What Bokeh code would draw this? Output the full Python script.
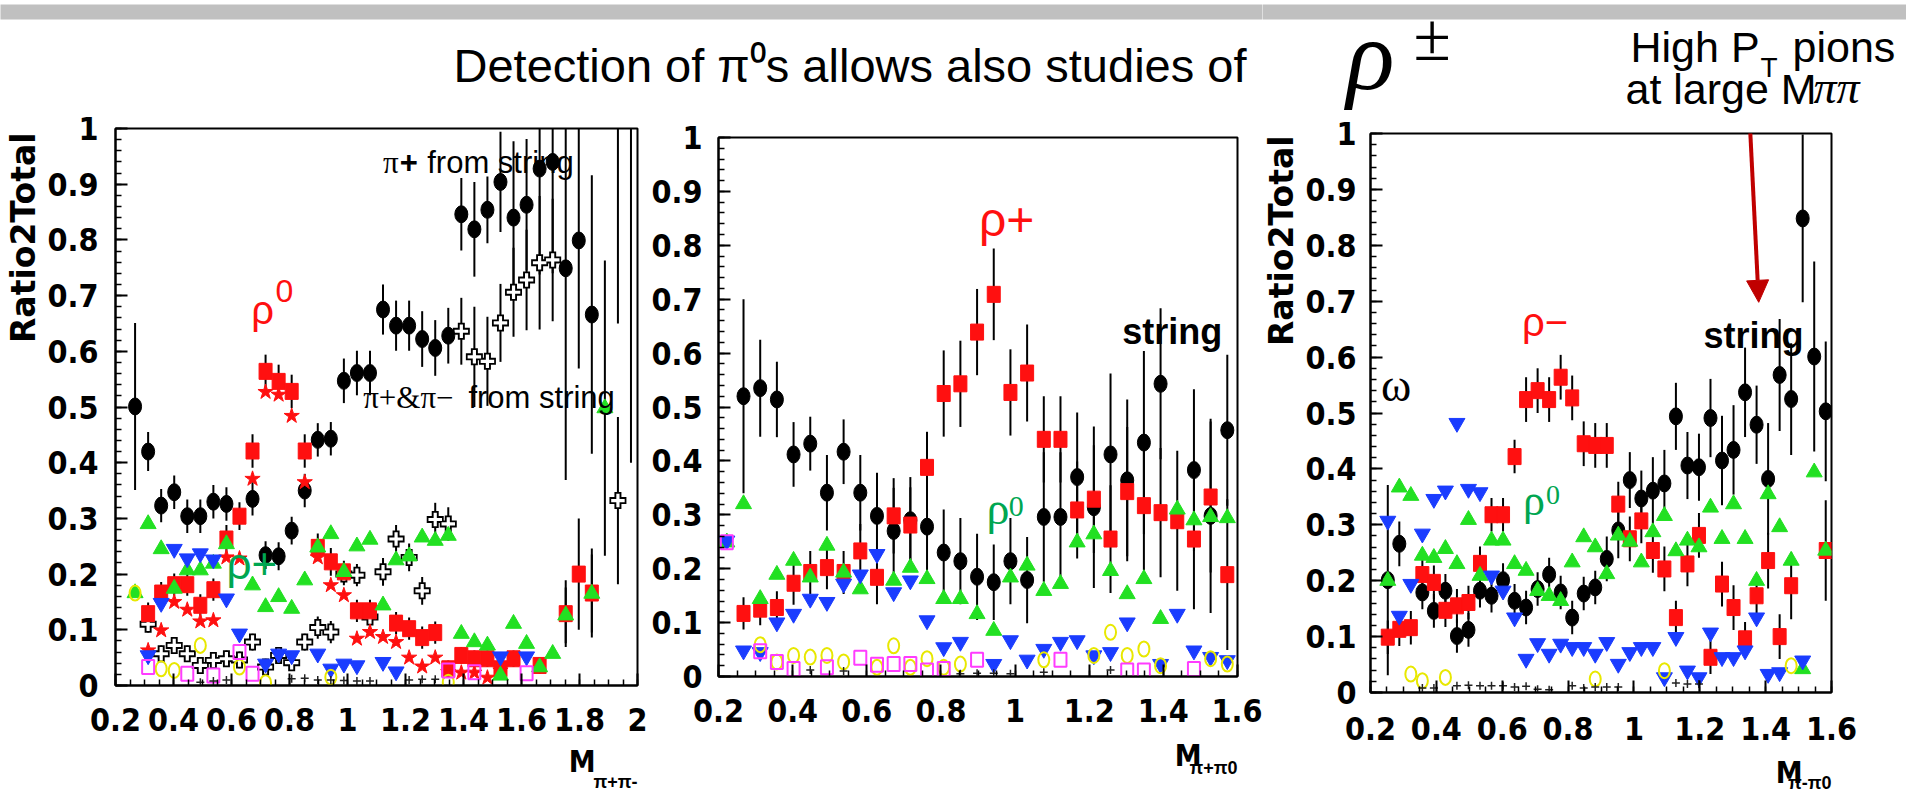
import math
import numpy as np
from bokeh.plotting import figure
from bokeh.layouts import row, column
from bokeh.models import (Range1d, SingleIntervalTicker, PrintfTickFormatter, Label,
                          BoxAnnotation, Arrow, NormalHead)
from bokeh.embed import file_html
from bokeh.resources import INLINE

N = None

# ---------------- Panel 1 : M(pi+ pi-) ----------------
p1_x = [0.2225, 0.2675, 0.3125, 0.3575, 0.4025, 0.4475, 0.4925, 0.5375, 0.5825, 0.6275,
        0.6725, 0.7175, 0.7625, 0.8075, 0.8525, 0.8975, 0.9425, 0.9875, 1.0325, 1.0775,
        1.1225, 1.1675, 1.2125, 1.2575, 1.3025, 1.3475, 1.3925, 1.4375, 1.4825, 1.5275,
        1.5725, 1.6175, 1.6625, 1.7075, 1.7525, 1.7975, 1.8425, 1.8875, 1.9325, 1.9775]
p1_string = [N, .501, .420, .323, .347, .304, .304, .330, .326, N,
             .335, .234, .232, .278, .350, .441, .443, .547, .561, .561,
             .675, .646, .646, .622, .606, .628, .846, .819, .854, .904,
             .840, .863, .928, .940, .749, .799, .666, N, 1.30, 1.40]
p1_string_err = [N, .15, .035, .03, .03, .03, .03, .03, .03, N,
                 .03, .025, .025, .025, .03, .03, .03, .04, .04, .04,
                 .045, .045, .045, .05, .05, .05, .065, .085, .06, .09,
                 .137, .118, .19, .2, .38, .23, .25, N, .65, 1.0]
p1_rho0 = [N, N, .129, .166, .181, .181, .144, .172, .263, .304,
           .421, .564, .546, .528, .421, .248, .222, .204, .134, .134,
           N, .112, .102, .086, .095, .030, .054, .048, .048, .030,
           .048, N, .036, N, .129, .200, .166, N, N, N]
p1_rho0_err = [N, N, .02, .02, .02, .02, .02, .02, .025, .025,
               .03, .03, .03, .03, .03, .025, .025, .02, .02, .02,
               N, .02, .02, .02, .02, .015, .015, .015, .015, .015,
               .015, N, .015, N, .06, .10, .08, N, N, N]
p1_star = [N, N, .063, .099, .150, .136, .115, .117, .230, .228,
           .371, .527, .522, .484, .365, .230, .180, .162, .084, .096,
           .087, .078, .050, .034, .050, .024, .023, .023, .014, .027,
           N, N, N, N, N, N, N, N, N, N]
p1_green = [N, .166, .290, .245, .174, .207, .207, .219, .254, N,
            .180, .141, .159, .138, .189, .248, .272, .204, .250, .262,
            .144, .225, .232, .266, .260, .269, .093, .078, .072, .018,
            .111, .075, .033, .057, .126, N, .165, .498, N, N]
p1_green_err = [N, N, N, N, N, N, N, N, N, N,
                N, N, N, N, N, N, N, N, N, N,
                N, N, N, N, N, N, N, N, N, N,
                N, N, N, N, .05, N, .07, .265, N, N]
p1_blue = [N, N, .054, .148, .245, .228, .237, .226, .156, .093,
           N, .039, .057, .054, N, .057, .030, .039, .036, N,
           .042, .025, N, N, N, N, N, N, N, .052,
           N, .052, N, N, N, N, N, N, N, N]
p1_cross = [N, N, .110, .057, .072, .057, .036, .045, .048, .046,
            .078, .033, .054, .041, .078, .104, .096, .200, .198, .123,
            .204, .263, .230, .170, .298, .290, .636, .590, .582, .651,
            .706, .728, .759, .764, N, N, N, N, .332, N]
p1_cross_err = [N, N, .015, .015, .015, .015, .015, .015, .015, .015,
                .015, .015, .015, .015, .015, .02, .02, .02, .02, .02,
                .025, .025, .025, .025, .03, .03, .06, .09, .08, .07,
                .08, .09, .12, .11, N, N, N, N, .15, N]
p1_yellow = [N, .166, N, .030, .027, N, .072, N, N, .033,
             N, .005, N, N, N, N, .015, N, N, N,
             N, N, N, N, N, .006, N, N, N, N,
             N, N, N, N, N, N, N, N, N, N]
p1_magenta = [N, N, .033, N, N, .021, N, .018, N, .060,
              .021, N, N, N, N, N, N, N, N, N,
              N, N, N, N, N, .027, N, .024, N, N,
              N, .022, N, N, N, N, N, N, N, N]
p1_bkg = [N, N, N, N, N, N, .006, .008, .010, N,
          N, N, N, .012, .013, .010, .010, .009, .008, .008,
          N, N, .010, .011, .011, N, N, N, N, N,
          N, N, N, N, N, N, N, N, N, N]

# ---------------- Panel 2 : M(pi+ pi0) ----------------
p2_x = [0.2225, 0.2675, 0.3125, 0.3575, 0.4025, 0.4475, 0.4925, 0.5375, 0.5825, 0.6275,
        0.6725, 0.7175, 0.7625, 0.8075, 0.8525, 0.8975, 0.9425, 0.9875, 1.0325, 1.0775,
        1.1225, 1.1675, 1.2125, 1.2575, 1.3025, 1.3475, 1.3925, 1.4375, 1.4825, 1.5275,
        1.5725]
p2_string = [N, .520, .535, .514, .412, .432, .341, .417, .341, .298,
             .270, .290, .278, .230, .214, .185, .175, .214, .179, .296,
             .296, .370, .314, .412, .364, .434, .543, N, .383, .298, .457]
p2_string_err = [N, .18, .09, .07, .06, .05, .07, .06, .07, .08,
                 .08, .08, .10, .08, .08, .08, .07, .08, .08, .12,
                 .12, .12, .15, .15, .15, .17, .14, N, .15, .18, .14]
p2_rhop = [N, .117, .125, .128, .173, .193, .202, .193, .233, .184,
           .298, .281, .388, .525, .543, .639, .709, .527, .563, .440,
           .440, .309, .329, .255, .343, .317, .304, .289, .255, .333, .189]
p2_rhop_err = [N, .03, .03, .03, .04, .04, .04, .04, .05, .05,
               .07, .07, .066, .08, .08, .08, .085, .08, .09, .08,
               .08, .09, .10, .10, .12, .12, .12, .13, .13, .14, .14]
p2_green = [.249, .320, .144, .189, .215, .184, .243, .193, .162, N,
            .178, .202, .181, .144, .144, .116, .085, .184, .206, .159,
            .172, .249, .264, .196, .153, .181, .107, .310, .290, .296, .294]
p2_blue = [.252, .048, .045, .100, .116, .144, .138, .172, .189, .227,
           .156, .178, .104, .054, .064, N, .023, .067, .031, .051,
           .064, .067, .039, .045, .100, N, .023, .116, .048, .036, .030]
p2_yellow = [N, N, .059, .027, .039, .036, .039, .027, N, .017,
             .057, .017, .033, .017, .023, N, N, N, N, .031,
             N, N, .039, .082, .039, .051, .020, N, N, .033, .023]
p2_magenta = [.249, N, .047, .027, .014, N, .017, N, .035, .022,
              .023, .023, .011, .014, N, .031, N, N, N, N,
              .031, N, N, N, .011, .011, N, N, .014, N, N]
p2_bkg = [N, N, N, N, N, .012, N, .010, N, N,
          N, N, N, N, .005, .006, .006, .005, N, .008,
          N, N, N, .012, N, N, N, N, N, N, N]

# ---------------- Panel 3 : M(pi- pi0) ----------------
p3_x = [0.2175, 0.2525, 0.2875, 0.3225, 0.3575, 0.3925, 0.4275, 0.4625, 0.4975, 0.5325,
        0.5675, 0.6025, 0.6375, 0.6725, 0.7075, 0.7425, 0.7775, 0.8125, 0.8475, 0.8825,
        0.9175, 0.9525, 0.9875, 1.0225, 1.0575, 1.0925, 1.1275, 1.1625, 1.1975, 1.2325,
        1.2675, 1.3025, 1.3375, 1.3725, 1.4075, 1.4425, 1.4775, 1.5125, 1.5475, 1.5825]
p3_string = [N, .201, .266, N, .179, .146, .182, .101, .112, .182,
             .173, .201, .164, .152, .185, .211, .179, .134, .177, .188,
             .239, .290, .380, .347, .361, .374, .494, .406, .403, .491,
             .415, .434, .537, .479, .382, .568, .525, .848, .601, .503]
p3_string_err = [N, .17, .04, N, .03, .03, .03, .03, .03, .03,
                 .03, .03, .03, .03, .03, .03, .03, .03, .03, .03,
                 .04, .05, .05, .05, .06, .06, .06, .06, .06, .07,
                 .08, .08, .08, .07, .10, .10, .10, .15, .17, .125]
p3_rhom = [N, .099, .113, .116, .211, .197, .147, .155, .161, .231,
           .318, .318, .422, .524, .540, .524, .564, .527, .445, .442,
           .442, .337, .275, .307, .254, .221, .134, .230, .281, .063,
           .194, .152, .096, .173, .236, .100, .191, N, N, .254]
p3_rhom_err = [N, .03, .03, .03, .03, .03, .03, .03, .03, .03,
               .03, .03, .03, .04, .04, .04, .04, .04, .04, .04,
               .04, .04, .04, .04, .04, .04, .03, .04, .04, .03,
               .04, .04, .03, .04, .05, .04, .06, N, N, .09]
p3_green = [N, .200, .367, .352, .245, .241, .257, .230, .309, .209,
            .272, .272, .230, .218, .182, .173, .164, .233, .278, .260,
            .212, .281, .270, .233, .287, .316, .253, .272, .260, .331,
            .275, .337, .275, .200, .355, .296, .236, .042, .394, .254]
p3_blue = [N, .307, .137, .194, .284, .346, .361, .482, .364, .358,
           .209, .182, .134, .060, .088, .069, .087, .081, .081, .069,
           .090, .051, .072, .081, .081, .027, .099, .039, .027, .107,
           .063, .063, .075, .134, .033, .036, N, .057, N, N]
p3_yellow = [N, N, N, .033, .021, N, .027, N, N, N,
             N, N, N, N, N, N, N, N, N, .024,
             N, N, N, N, N, .039, N, N, N, N,
             N, N, N, N, N, N, .048, N, N, N]
p3_bkg = [N, N, N, N, .008, .008, N, .012, .013, .012,
          .012, .012, .010, .011, .006, .005, N, .012, .008, .010,
          .010, .010, N, N, N, N, .017, .015, .015, N,
          N, N, N, N, N, N, N, N, N, N]

# ---------------- styling ----------------
RED = "#ff1010"
GREEN = "#22e022"
LABGREEN = "#00a651"
BLUE = "#1a3cff"
YELLOW = "#e8e800"
MAGENTA = "#ff3cff"
TICKF = "'Liberation Sans Narrow', 'Arial Narrow', 'DejaVu Sans Condensed', sans-serif"
SANS = "Liberation Sans"
SERIF = "Liberation Serif"


def arr(v):
    return np.array([np.nan if a is None else a for a in v], dtype=float)


def noalign(p):
    try:
        p.frame_align = False
    except Exception:
        pass


def errbars(p, x, y, e, color="black", width=2):
    x, y, e = arr(x), arr(y), arr(e)
    m = ~np.isnan(y) & ~np.isnan(e)
    p.segment(x0=x[m], y0=(y - e)[m], x1=x[m], y1=(y + e)[m],
              line_color=color, line_width=width)


def pts(x, y):
    x, y = arr(x), arr(y)
    m = ~np.isnan(y)
    return x[m], y[m]


def mkfig(w, h, xr, bl, br, bt, bb, xstand, ystand):
    p = figure(width=w, height=h, x_range=Range1d(*xr), y_range=Range1d(0, 1),
               output_backend="svg", toolbar_location=None,
               min_border_left=bl, min_border_right=br,
               min_border_top=bt, min_border_bottom=bb)
    noalign(p)
    p.background_fill_color = "white"
    p.border_fill_color = "white"
    p.xaxis.ticker = SingleIntervalTicker(interval=0.2, num_minor_ticks=4)
    p.yaxis.ticker = SingleIntervalTicker(interval=0.1, num_minor_ticks=5)
    for ax in (p.xaxis[0], p.yaxis[0]):
        ax.formatter = PrintfTickFormatter(format="%.2g")
        ax.major_label_text_font = TICKF
        ax.major_label_text_font_size = "32px"
        ax.major_label_text_font_style = "bold"
        ax.major_label_text_color = "black"
        ax.axis_line_width = 2
        ax.axis_line_color = "black"
        ax.major_tick_in = 12
        ax.major_tick_out = 0
        ax.minor_tick_in = 6
        ax.minor_tick_out = 0
        ax.major_tick_line_width = 2
        ax.minor_tick_line_width = 1.5
        ax.major_tick_line_color = "black"
        ax.minor_tick_line_color = "black"
    p.xaxis.major_label_standoff = xstand
    p.yaxis.major_label_standoff = ystand
    p.xgrid.visible = False
    p.ygrid.visible = False
    p.outline_line_color = "black"
    p.outline_line_width = 2
    p.outline_line_alpha = 1
    return p


def strip(w, h):
    s = figure(width=w, height=h, x_range=Range1d(0, w), y_range=Range1d(h, 0),
               output_backend="svg", toolbar_location=None,
               x_axis_type=None, y_axis_type=None,
               min_border_left=0, min_border_right=0, min_border_top=0,
               min_border_bottom=0)
    noalign(s)
    s.outline_line_color = None
    s.background_fill_color = "white"
    s.border_fill_color = "white"
    return s


def lab(p, x, y, text, size, color="black", font=SANS, style="normal",
        align="left", baseline="alphabetic", angle=0):
    p.add_layout(Label(x=x, y=y, text=text, text_font=font,
                       text_font_size=f"{size}px", text_font_style=style,
                       text_color=color, text_align=align,
                       text_baseline=baseline, angle=angle))


def draw_series(p, x, cross=None, cross_err=None, string=None, string_err=None,
                sq=None, sq_err=None, star=None, green=None, green_err=None,
                blue=None, yellow=None, magenta=None, bkg=None):
    if cross is not None:
        errbars(p, x, cross, cross_err)
    if string is not None:
        errbars(p, x, string, string_err)
    if sq is not None:
        errbars(p, x, sq, sq_err)
    if green_err is not None:
        errbars(p, x, green, green_err)
    if cross is not None:
        cx, cy = pts(x, cross)
        p.scatter(cx, cy, marker="cross", size=17, line_color="black", line_width=7)
        p.scatter(cx, cy, marker="cross", size=13.5, line_color="white", line_width=3.2)
    if string is not None:
        sx, sy = pts(x, string)
        p.ellipse(sx, sy, width=13, height=17, width_units="screen",
                  height_units="screen", fill_color="black", line_color="black")
    if sq is not None:
        qx, qy = pts(x, sq)
        p.rect(qx, qy, width=13, height=16, width_units="screen",
               height_units="screen", fill_color=RED, line_color=RED)
    if star is not None:
        tx, ty = pts(x, star)
        p.scatter(tx, ty, marker="star", size=16, fill_color=RED, line_color=RED)
    if green is not None:
        gx, gy = pts(x, green)
        p.scatter(gx, gy, marker="triangle", size=16, fill_color=GREEN, line_color=GREEN)
    if blue is not None:
        bx, by = pts(x, blue)
        p.scatter(bx, by, marker="inverted_triangle", size=16, fill_color=BLUE,
                  line_color=BLUE)
    if yellow is not None:
        yx, yy = pts(x, yellow)
        p.ellipse(yx, yy, width=11, height=15, width_units="screen",
                  height_units="screen", fill_color=None, line_color=YELLOW,
                  line_width=2)
    if magenta is not None:
        mx, my = pts(x, magenta)
        p.rect(mx, my, width=12, height=14, width_units="screen",
               height_units="screen", fill_color=None, line_color=MAGENTA,
               line_width=2)
    if bkg is not None:
        kx, ky = pts(x, bkg)
        p.scatter(kx, ky, marker="cross", size=8, line_color="#222222", line_width=1.5)


# ---------------- top strips (screen-pixel coordinates) ----------------
topL = strip(1262, 110)
topL.add_layout(BoxAnnotation(left=-10, right=1290, top=4, bottom=19,
                              fill_color="#c0c0c0", fill_alpha=1, line_color=None))
lab(topL, 453, 65, "Detection of π⁰s allows also studies of", 47)

topR = strip(644, 115)
topR.add_layout(BoxAnnotation(left=-30, right=660, top=4, bottom=19,
                              fill_color="#c0c0c0", fill_alpha=1, line_color=None))
lab(topR, 84, 55, "ρ", 100, font=SERIF, style="italic")
lab(topR, 151, 36.2, "±", 68, font=SERIF)
lab(topR, 368, 46.7, "High P", 43)
lab(topR, 498, 67, "T", 28)
lab(topR, 530, 46.7, "pions", 43)
lab(topR, 551, 86.5, "ππ", 46, font=SERIF, style="italic")
lab(topR, 363, 88.7, "at large M", 43)

# ---------------- panel 1 ----------------
ylab1 = strip(44, 683)
lab(ylab1, 22.5, 22, "Ratio2Total", 33, font="DejaVu Sans", style="bold",
    align="right", angle=math.pi / 2)

f1 = mkfig(604, 635, (0.2, 2.0), 62, 11, 18, 60, 22, 17)
draw_series(f1, p1_x, cross=p1_cross, cross_err=p1_cross_err,
            string=p1_string, string_err=p1_string_err,
            sq=p1_rho0, sq_err=p1_rho0_err, star=p1_star,
            green=p1_green, green_err=p1_green_err, blue=p1_blue,
            yellow=p1_yellow, magenta=p1_magenta, bkg=p1_bkg)
lab(f1, 1.122, 0.939, "π", 31, font=SERIF)
lab(f1, 1.180, 0.939, "+", 31, style="bold")
lab(f1, 1.275, 0.939, "from string", 31)
lab(f1, 1.054, 0.517, "π+&π−", 31, font=SERIF)
lab(f1, 1.417, 0.517, "from string", 31)
lab(f1, 0.668, 0.675, "ρ", 40, color=RED)
lab(f1, 0.752, 0.708, "0", 32, color=RED)
lab(f1, 0.583, 0.219, "ρ+", 44, color=LABGREEN)
bot1 = strip(604, 48)
lab(bot1, 551, 15.6, "M", 30, font=TICKF, style="bold", align="right")
lab(bot1, 593, 36.2, "π+π-", 18, style="bold", align="right")

# ---------------- panel 2 ----------------
f2 = mkfig(614, 628, (0.2, 1.6), 53, 25, 27, 62, 22, 16)
draw_series(f2, p2_x, string=p2_string, string_err=p2_string_err,
            sq=p2_rhop, sq_err=p2_rhop_err, green=p2_green, blue=p2_blue,
            yellow=p2_yellow, magenta=p2_magenta, bkg=p2_bkg)
lab(f2, 0.9025, 0.848, "ρ+", 48, color=RED)
lab(f2, 1.289, 0.640, "string", 36, style="bold")
lab(f2, 0.923, 0.3126, "ρ", 46, color=LABGREEN, font=SERIF)
lab(f2, 0.983, 0.316, "0", 30, color=LABGREEN, font=SERIF)
bot2 = strip(614, 55)
lab(bot2, 553, 16.6, "M", 30, font=TICKF, style="bold", align="right")
lab(bot2, 589, 29.2, "π+π0", 18, style="bold", align="right")

# ---------------- panel 3 ----------------
ylab3 = strip(40, 678)
lab(ylab3, 19, 20, "Ratio2Total", 33, font="DejaVu Sans", style="bold",
    align="right", angle=math.pi / 2)

f3 = mkfig(604, 639, (0.2, 1.6), 54, 75, 18, 62, 24, 14)
draw_series(f3, p3_x, string=p3_string, string_err=p3_string_err,
            sq=p3_rhom, sq_err=p3_rhom_err, green=p3_green, blue=p3_blue,
            yellow=p3_yellow, bkg=p3_bkg)
lab(f3, 0.66, 0.662, "ρ−", 40, color=RED)
lab(f3, 1.211, 0.638, "string", 36, style="bold")
lab(f3, 0.232, 0.55, "ω", 46, font=SERIF)
lab(f3, 0.663, 0.343, "ρ", 44, color=LABGREEN, font=SERIF)
lab(f3, 0.733, 0.3535, "0", 28, color=LABGREEN, font=SERIF)
f3.add_layout(Arrow(end=NormalHead(size=22, fill_color="#c00000", line_color="#c00000"),
                    x_start=1.352, y_start=1.018, x_end=1.379, y_end=0.698,
                    line_color="#c00000", line_width=4))
bot3 = strip(604, 39)
lab(bot3, 500, 17.6, "M", 30, font=TICKF, style="bold", align="right")
lab(bot3, 529, 28.2, "π-π0", 18, style="bold", align="right")

left_part = column(topL,
                   row(ylab1, column(f1, bot1, spacing=0),
                       column(f2, bot2, spacing=0), spacing=0),
                   spacing=0)
right_part = column(topR,
                    row(ylab3, column(f3, bot3, spacing=0), spacing=0),
                    spacing=0)
p = row(left_part, right_part, spacing=0)
open("out.html", "w").write(file_html(p, INLINE))
